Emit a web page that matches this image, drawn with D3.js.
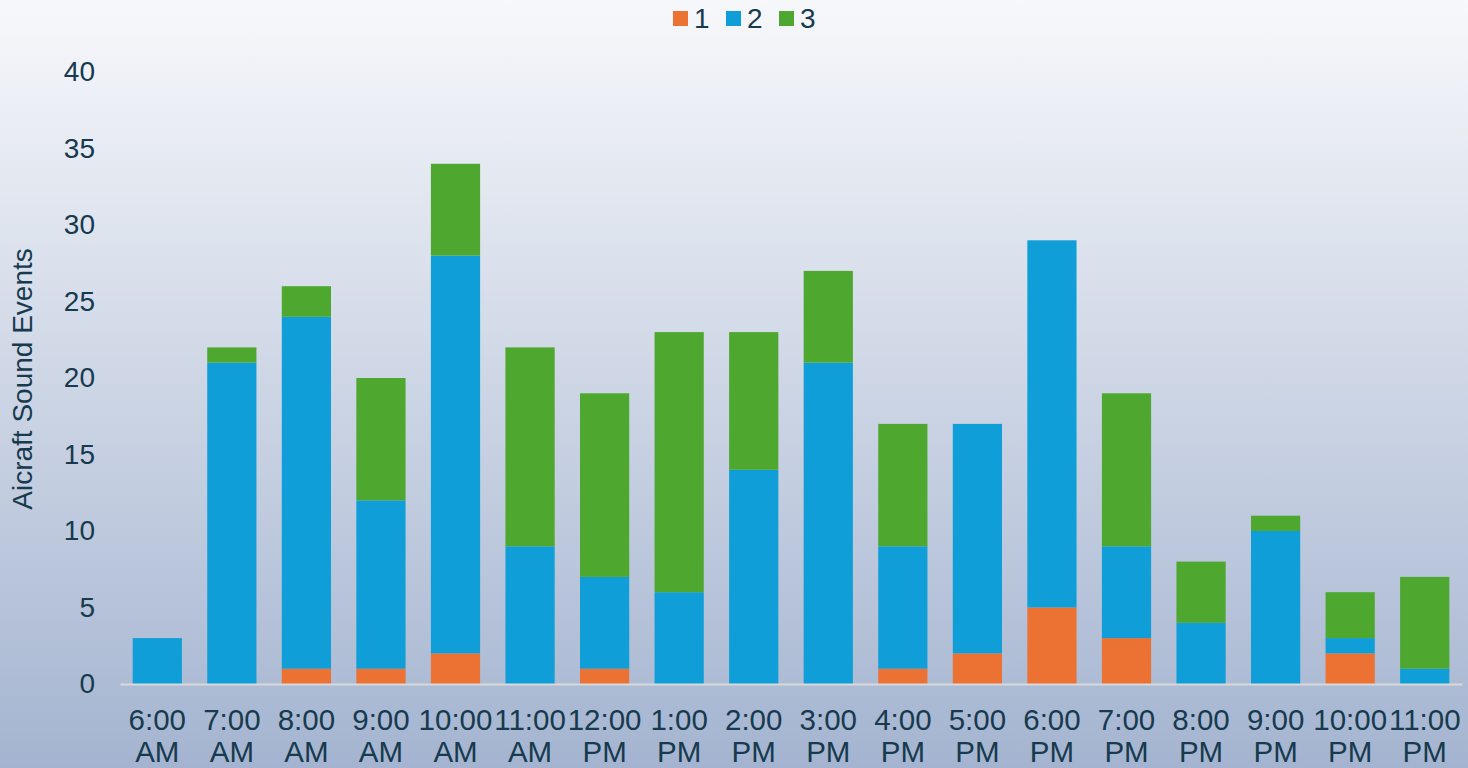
<!DOCTYPE html>
<html lang="en">
<head>
<meta charset="UTF-8">
<title>Aircraft Sound Events</title>
<script src="https://d3js.org/d3.v7.min.js"></script>
<style>
    body { margin: 0; }
    svg { display: block; font-family: "Liberation Sans", Arial, sans-serif; }
</style>
</head>
<body>
<div id="container"></div>
<script>
    // hours of the day
    var hours = ["6:00 AM", "7:00 AM", "8:00 AM", "9:00 AM", "10:00 AM", "11:00 AM",
        "12:00 PM", "1:00 PM", "2:00 PM", "3:00 PM", "4:00 PM", "5:00 PM",
        "6:00 PM", "7:00 PM", "8:00 PM", "9:00 PM", "10:00 PM", "11:00 PM"];
    var series = ["1", "2", "3"];
    var level1 = [0, 0, 1, 1, 2, 0, 1, 0, 0, 0, 1, 2, 5, 3, 0, 0, 2, 0];
    var level2 = [3, 21, 23, 11, 26, 9, 6, 6, 14, 21, 8, 15, 24, 6, 4, 10, 1, 1];
    var level3 = [0, 1, 2, 8, 6, 13, 12, 17, 9, 6, 8, 0, 0, 10, 4, 1, 3, 6];
    var yTicks = [0, 5, 10, 15, 20, 25, 30, 35, 40];
    var colors = ["#ec7233", "#0f9ed7", "#4ea72e"];

    var width = 1468, height = 768;
    var margin = { top: 72, right: 6, bottom: 84, left: 120 };
    var textColor = "#173a4e";

    var rows = hours.map(function (h, i) {
        return { hour: h, "1": level1[i], "2": level2[i], "3": level3[i] };
    });
    var stacked = d3.stack().keys(series)(rows);

    var svg = d3.select("#container").append("svg")
        .attr("width", width)
        .attr("height", height);

    var grad = svg.append("defs").append("linearGradient")
        .attr("id", "bg").attr("x1", 0).attr("y1", 0).attr("x2", 0).attr("y2", 1);
    grad.append("stop").attr("offset", "0%").attr("stop-color", "#f7f8fb");
    grad.append("stop").attr("offset", "100%").attr("stop-color", "#a4b4d0");
    svg.append("rect").attr("width", width).attr("height", height).attr("fill", "url(#bg)");

    var x = d3.scaleBand()
        .domain(hours)
        .range([margin.left, width - margin.right])
        .paddingInner(0.34)
        .paddingOuter(0.17);

    var y = d3.scaleLinear()
        .domain([0, 40])
        .range([height - margin.bottom, margin.top]);

    // bars
    svg.append("g")
        .selectAll("g")
        .data(stacked)
        .enter()
        .append("g")
        .attr("fill", (d, i) => colors[i])
        .selectAll("rect")
        .data(d => d)
        .enter()
        .append("rect")
        .attr("x", d => x(d.data.hour))
        .attr("y", d => y(d[1]))
        .attr("width", x.bandwidth())
        .attr("height", d => y(d[0]) - y(d[1]));

    // y axis
    var yAxis = svg.append("g")
        .attr("transform", "translate(" + (margin.left - 25) + ",0)")
        .call(d3.axisLeft(y).tickValues(yTicks).tickSize(0).tickPadding(0));
    yAxis.select(".domain").remove();
    yAxis.selectAll("text")
        .attr("fill", textColor)
        .style("font-size", "28px");

    // x axis
    var xAxis = svg.append("g")
        .attr("transform", "translate(0," + y(0) + ")")
        .call(d3.axisBottom(x).tickSize(0).tickPadding(0));
    xAxis.select(".domain")
        .attr("stroke", "#d9d9d9")
        .attr("stroke-width", 2);
    xAxis.selectAll(".tick text").each(function (d) {
        var t = d3.select(this).text("");
        var parts = d.split(" ");
        t.attr("y", 0).attr("dy", 0);
        parts.forEach(function (p, k) {
            t.append("tspan").attr("x", 0).attr("y", 46 + k * 32).text(p);
        });
    });
    xAxis.selectAll("text")
        .attr("fill", textColor)
        .style("font-size", "29.5px");

    // y title
    svg.append("text")
        .attr("transform", "translate(32,379) rotate(-90)")
        .attr("text-anchor", "middle")
        .attr("fill", textColor)
        .style("font-size", "28px")
        .text("Aicraft Sound Events");

    // legend
    var legend = svg.append("g").attr("transform", "translate(673,0)");
    var lx = [0, 53, 106];
    series.forEach(function (s, i) {
        legend.append("rect")
            .attr("x", lx[i]).attr("y", 11)
            .attr("width", 15).attr("height", 15)
            .attr("fill", colors[i]);
        legend.append("text")
            .attr("x", lx[i] + 21).attr("y", 28)
            .attr("fill", textColor)
            .style("font-size", "28px")
            .text(s);
    });
</script>
</body>
</html>
